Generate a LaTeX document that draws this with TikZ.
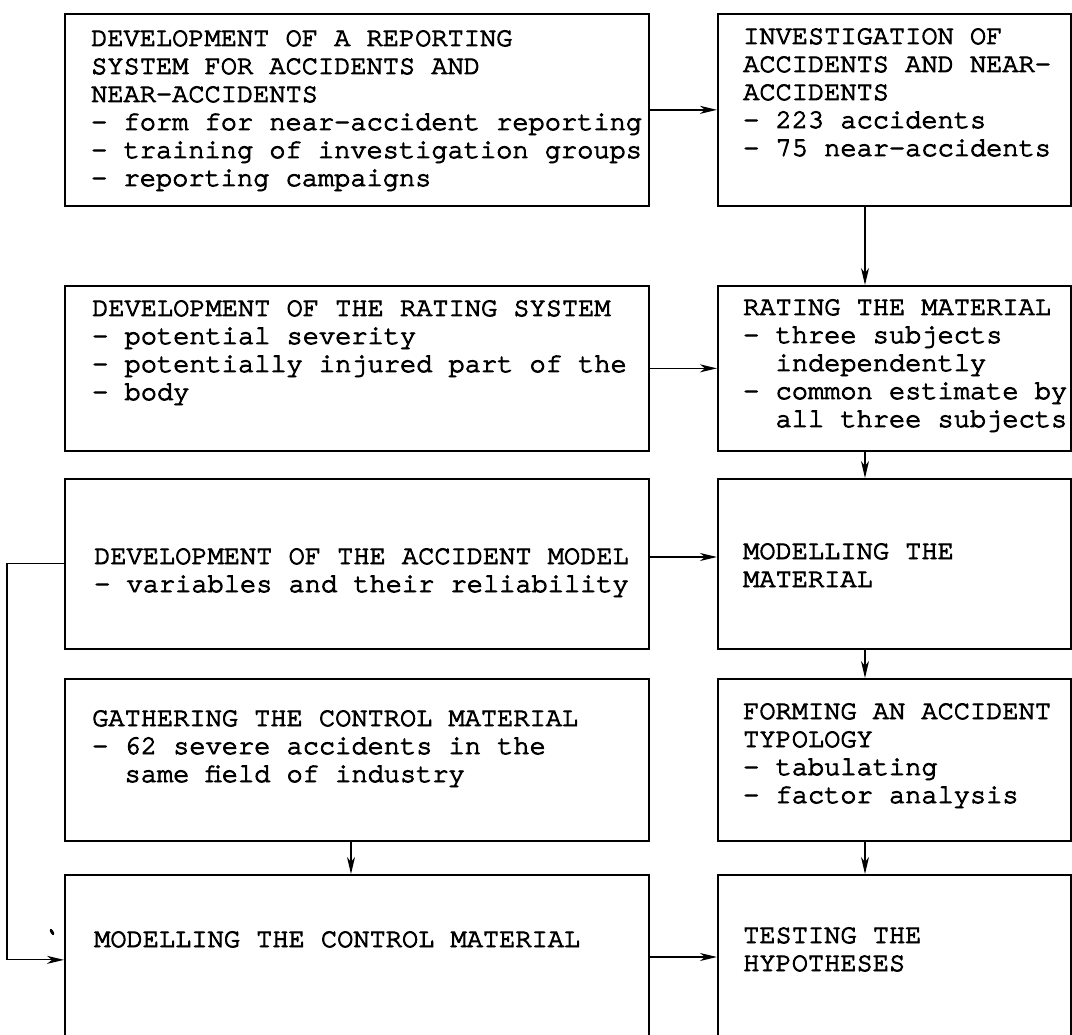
\documentclass[tikz,border=0pt]{standalone}
\usepackage{fontspec}
\newfontfamily\typew{texgyrecursor-regular.otf}[FakeBold=3.5]
\usetikzlibrary{arrows.meta,calc}
\begin{document}
\begin{tikzpicture}[x=1pt,y=-1pt,
  box/.style={draw,line width=1.7pt,rectangle,inner sep=0pt,anchor=north west},
  txt/.style={inner sep=0pt,anchor=base west,font=\typew\fontsize{27pt}{28pt}\selectfont},
  conn/.style={line width=1.4pt,-{Stealth[length=17pt,width=8pt,inset=5pt]}},
  loopline/.style={line width=1.1pt,-{Stealth[length=17pt,width=8pt,inset=5pt]}}]
\useasboundingbox (0,0) rectangle (1072,1035);
\clip (0,0) rectangle (1072,1035);
\fill[white] (0,0) rectangle (1072,1035);
% boxes, left column
\node[box,minimum width=584pt,minimum height=192pt] (b1) at (64,13) {};
\node[box,minimum width=584pt,minimum height=165pt] (b2) at (64,285) {};
\node[box,minimum width=584pt,minimum height=170pt] (b3) at (64,478) {};
\node[box,minimum width=584pt,minimum height=162pt] (b4) at (64,678) {};
\node[box,minimum width=584pt,minimum height=170pt] (b5) at (64,874) {};
% boxes, right column
\node[box,minimum width=353pt,minimum height=192pt] (bA) at (717,13) {};
\node[box,minimum width=353pt,minimum height=165pt] (bB) at (717,285) {};
\node[box,minimum width=353pt,minimum height=170pt] (bC) at (717,478) {};
\node[box,minimum width=353pt,minimum height=162pt] (bD) at (717,678) {};
\node[box,minimum width=353pt,minimum height=170pt] (bE) at (717,874) {};
% texts
\node[txt] (t1) at (91,46) {\begin{tabular}[t]{@{}l@{}}DEVELOPMENT OF A REPORTING\\SYSTEM FOR ACCIDENTS AND\\NEAR-ACCIDENTS\\- form for near-accident reporting\\- training of investigation groups\\- reporting campaigns\end{tabular}};
\node[txt] (t2) at (92,316) {\begin{tabular}[t]{@{}l@{}}DEVELOPMENT OF THE RATING SYSTEM\\- potential severity\\- potentially injured part of the\\- body\end{tabular}};
\node[txt] (t3) at (94,564) {\begin{tabular}[t]{@{}l@{}}DEVELOPMENT OF THE ACCIDENT MODEL\\- variables and their reliability\end{tabular}};
\node[txt] (t4) at (92,726) {\begin{tabular}[t]{@{}l@{}}GATHERING THE CONTROL MATERIAL\\- 62 severe accidents in the\\\hphantom{xx}same field of industry\end{tabular}};
\node[txt] (t5) at (94,947) {MODELLING THE CONTROL MATERIAL};
\node[txt] (tA) at (743,44) {\begin{tabular}[t]{@{}l@{}}INVESTIGATION OF\\ACCIDENTS AND NEAR-\\ACCIDENTS\\- 223 accidents\\- 75 near-accidents\end{tabular}};
\node[txt] (tB) at (743,315) {\begin{tabular}[t]{@{}l@{}}RATING THE MATERIAL\\- three subjects\\\hphantom{xx}independently\\- common estimate by\\\hphantom{xx}all three subjects\end{tabular}};
\node[txt] (tC) at (743,559) {\begin{tabular}[t]{@{}l@{}}MODELLING THE\\MATERIAL\end{tabular}};
\node[txt] (tD) at (743,719) {\begin{tabular}[t]{@{}l@{}}FORMING AN ACCIDENT\\TYPOLOGY\\- tabulating\\- factor analysis\end{tabular}};
\node[txt] (tE) at (743,943) {\begin{tabular}[t]{@{}l@{}}TESTING THE\\HYPOTHESES\end{tabular}};
% helper coordinates
\coordinate (xr) at (865,0);
\coordinate (xl) at (351,0);
\coordinate (y3) at (0,557);
\coordinate (y5) at (0,957);
% connectors
\draw[conn] (b1.east) -- (bA.west);
\draw[conn] (bA.south -| xr) -- (bB.north -| xr);
\draw[conn] (b2.east) -- (bB.west);
\draw[conn] (bB.south -| xr) -- (bC.north -| xr);
\draw[conn] (b3.east |- y3) -- (bC.west |- y3);
\draw[conn] (bC.south -| xr) -- (bD.north -| xr);
\draw[conn] (bD.south -| xr) -- (bE.north -| xr);
\draw[conn] (b4.south -| xl) -- (b5.north -| xl);
\draw[conn] (b5.east |- y5) -- (bE.west |- y5);
\draw[loopline] (b3.west) -- ++(-57,0) |- (b5.west);
% stray mark
\fill[rotate around={-60:(52,932)}] (52,932) ellipse (3.5pt and 1.6pt);
\end{tikzpicture}
\end{document}
